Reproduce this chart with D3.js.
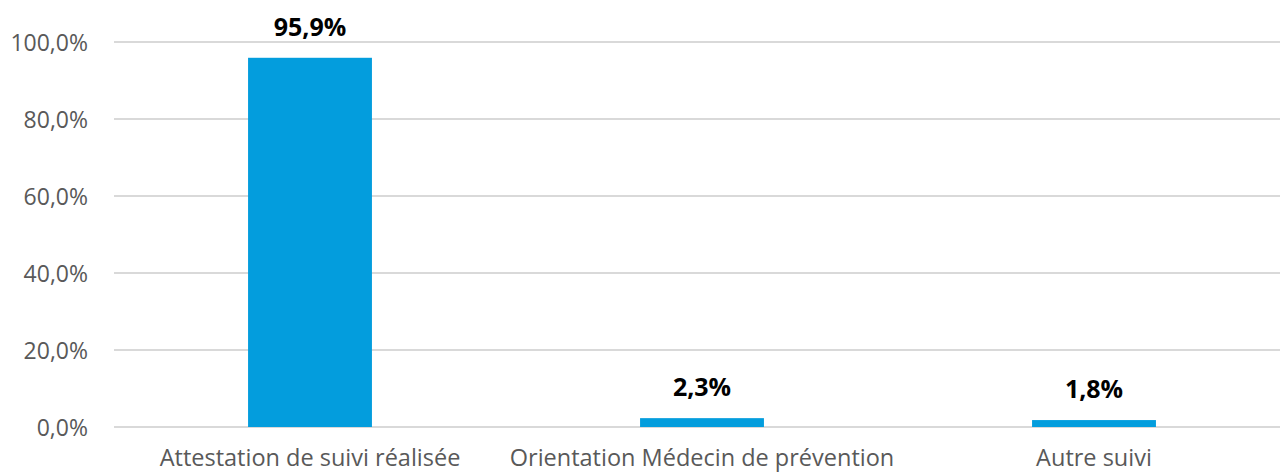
<!DOCTYPE html>
<html>
<head>
<meta charset="utf-8">
<script src="https://cdn.jsdelivr.net/npm/d3@7"></script>
<style>
  html, body { margin: 0; padding: 0; background: #fff; overflow: hidden; }
  svg { display: block; }
</style>
</head>
<body>
<svg id="chart" width="1280" height="472"></svg>
<script>
// Chart data
const categories = ["Attestation de suivi réalisée", "Orientation Médecin de prévention", "Autre suivi"];
const values = [95.9, 2.3, 1.8];
const yTicks = [0, 20, 40, 60, 80, 100];

const W = 1280, H = 472;
const svg = d3.select("#chart");
const font = "'Open Sans', 'Noto Sans', sans-serif";

const x = d3.scaleBand()
  .domain(categories)
  .range([114, 1290])
  .paddingInner(0.684)
  .paddingOuter(0.342);

const y = d3.scaleLinear()
  .domain([0, 100])
  .range([427, 42]);

const fmt = v => v.toFixed(1).replace(".", ",") + "%";

// Gridlines
svg.append("g")
  .selectAll("line")
  .data(yTicks)
  .join("line")
  .attr("x1", 114)
  .attr("x2", W)
  .attr("y1", d => y(d))
  .attr("y2", d => y(d))
  .attr("stroke", "#d9d9d9")
  .attr("stroke-width", 2);

// Y axis labels
const yAxis = d3.axisLeft(y).tickValues(yTicks).tickFormat(fmt).tickSize(0).tickPadding(0);
const yg = svg.append("g").attr("transform", "translate(88,0)").call(yAxis);
yg.select(".domain").remove();
yg.selectAll("text")
  .attr("fill", "#595959")
  .style("font-family", font)
  .style("font-size", "23px")
  .attr("dy", "0.35em");

// Bars
svg.append("g")
  .selectAll("rect")
  .data(values)
  .join("rect")
  .attr("x", (d, i) => x(categories[i]))
  .attr("width", x.bandwidth())
  .attr("y", d => y(d))
  .attr("height", d => y(0) - y(d))
  .attr("fill", "#039ddd");

// Value labels
svg.append("g")
  .selectAll("text")
  .data(values)
  .join("text")
  .attr("x", (d, i) => x(categories[i]) + x.bandwidth() / 2)
  .attr("y", d => y(d) - 22)
  .attr("text-anchor", "middle")
  .attr("fill", "#000")
  .style("font-family", font)
  .style("font-weight", "700")
  .style("font-size", "25px")
  .text(fmt);

// Category labels
const xAxis = d3.axisBottom(x).tickSize(0).tickPadding(0);
const xg = svg.append("g").attr("transform", "translate(0,465.5)").call(xAxis);
xg.select(".domain").remove();
xg.selectAll("text")
  .attr("fill", "#595959")
  .attr("dy", 0)
  .style("font-family", font)
  .style("font-size", "23.5px");
</script>
</body>
</html>
